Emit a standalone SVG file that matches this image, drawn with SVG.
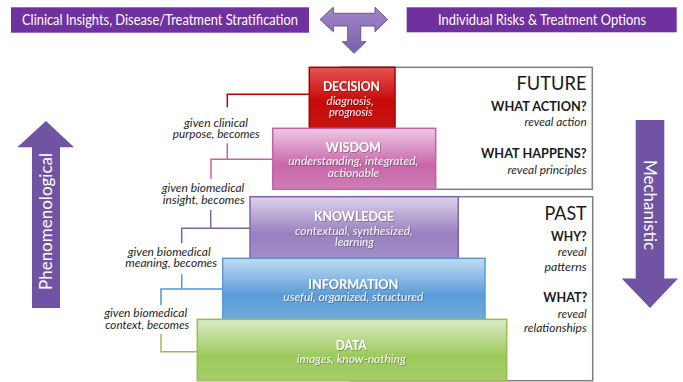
<svg xmlns="http://www.w3.org/2000/svg" width="683" height="382" viewBox="0 0 683 382">
<defs>
<style>
text{font-family:Lato,"Liberation Sans",sans-serif}
.ban{font-size:14.5px;fill:#fff;text-anchor:middle}
.ttl{font-size:13px;font-weight:bold;fill:#fff;text-anchor:middle}
.sub{font-size:11.5px;font-style:italic;fill:#f4f4f4;text-anchor:middle}
.lbl{font-size:11px;font-style:italic;fill:#262626;text-anchor:middle}
.big{font-size:20px;fill:#1a1a1a;text-anchor:end}
.q{font-size:13px;font-weight:bold;fill:#1a1a1a;text-anchor:end}
.rv{font-size:11px;font-style:italic;fill:#262626;text-anchor:end}
.vert{font-size:17px;fill:#fff;text-anchor:middle}
.frame{fill:none;stroke:#7f7f7f;stroke-width:1.5}
.con{fill:none;stroke-width:1.5}
.sh{filter:url(#sh)}
</style>
<filter id="sh" x="-10%" y="-30%" width="120%" height="160%">
<feDropShadow dx="0.8" dy="0.8" stdDeviation="0.5" flood-color="#000" flood-opacity="0.35"/>
</filter>
<linearGradient id="gRed" x1="0" y1="0" x2="0" y2="1">
<stop offset="0" stop-color="#e65454"/><stop offset="0.55" stop-color="#c80a0a"/><stop offset="1" stop-color="#c41414"/>
</linearGradient>
<linearGradient id="gPink" x1="0" y1="0" x2="0" y2="1">
<stop offset="0" stop-color="#efc9e4"/><stop offset="0.6" stop-color="#c867aa"/><stop offset="1" stop-color="#cf7db6"/>
</linearGradient>
<linearGradient id="gPur" x1="0" y1="0" x2="0" y2="1">
<stop offset="0" stop-color="#ddd2ea"/><stop offset="0.6" stop-color="#9880c0"/><stop offset="1" stop-color="#a48fc8"/>
</linearGradient>
<linearGradient id="gBlue" x1="0" y1="0" x2="0" y2="1">
<stop offset="0" stop-color="#c2dcf2"/><stop offset="0.6" stop-color="#5b9cd8"/><stop offset="1" stop-color="#70a9dc"/>
</linearGradient>
<linearGradient id="gGreen" x1="0" y1="0" x2="0" y2="1">
<stop offset="0" stop-color="#dbebc4"/><stop offset="0.6" stop-color="#9cc95c"/><stop offset="1" stop-color="#a6cd6a"/>
</linearGradient>
<linearGradient id="gT" x1="0" y1="0" x2="0" y2="1">
<stop offset="0" stop-color="#9f86c8"/><stop offset="1" stop-color="#7c61ab"/>
</linearGradient>
</defs>
<rect width="683" height="382" fill="#fff"/>

<g id="banner-left">
<rect x="11" y="7.3" width="298" height="25.4" fill="#7030a0"/>
<text class="ban" x="160" y="25" textLength="276" lengthAdjust="spacingAndGlyphs">Clinical Insights, Disease/Treatment Stratification</text>
</g>
<g id="banner-right">
<rect x="406.7" y="7.3" width="270" height="25" fill="#7030a0"/>
<text class="ban" x="542" y="25" textLength="208" lengthAdjust="spacingAndGlyphs">Individual Risks &amp; Treatment Options</text>
</g>
<g id="t-arrow">
<polygon points="320,19.5 333.3,7.3 333.3,13.3 375,13.3 375,7.3 387.5,19.5 375,31.7 375,26 360.7,26 360.7,41.7 366,41.7 354,53.3 342.3,41.7 347.7,41.7 347.7,26 333.3,26 333.3,31.7" fill="url(#gT)" stroke="#6d5592" stroke-width="1"/>
</g>

<g id="arrow-phenomenological">
<polygon points="46,121 74,147.3 60,147.3 60,308 32,308 32,147.3 17.3,147.3" fill="#7153a3"/>
<text class="vert" transform="translate(46,221.5) rotate(-90)" x="0" y="6" textLength="137" lengthAdjust="spacingAndGlyphs">Phenomenological</text>
</g>
<g id="arrow-mechanistic">
<polygon points="635.7,120 664.3,120 664.3,278.5 678,278.5 650,308 621.7,278.5 635.7,278.5" fill="#7153a3"/>
<text class="vert" transform="translate(650,205) rotate(90)" x="0" y="6" textLength="90" lengthAdjust="spacingAndGlyphs">Mechanistic</text>
</g>

<g id="future">
<rect class="frame" x="340" y="67.3" width="252.3" height="122"/>
<text class="big" x="586.5" y="90" textLength="70" lengthAdjust="spacingAndGlyphs">FUTURE</text>
<text class="q" x="586.7" y="111.3" textLength="95.7" lengthAdjust="spacingAndGlyphs">WHAT ACTION?</text>
<text class="rv" x="586.7" y="126" textLength="62.3" lengthAdjust="spacingAndGlyphs">reveal action</text>
<text class="q" x="586.7" y="158" textLength="105.7" lengthAdjust="spacingAndGlyphs">WHAT HAPPENS?</text>
<text class="rv" x="586.7" y="173.7" textLength="79.3" lengthAdjust="spacingAndGlyphs">reveal principles</text>
</g>
<g id="past">
<rect class="frame" x="350" y="196.7" width="242.7" height="184"/>
<text class="big" x="586.7" y="220" textLength="42.3" lengthAdjust="spacingAndGlyphs">PAST</text>
<text class="q" x="586.7" y="241.3" textLength="35.7" lengthAdjust="spacingAndGlyphs">WHY?</text>
<text class="rv" x="586.7" y="256" textLength="29" lengthAdjust="spacingAndGlyphs">reveal</text>
<text class="rv" x="586.7" y="271" textLength="42.3" lengthAdjust="spacingAndGlyphs">patterns</text>
<text class="q" x="587.3" y="302" textLength="44" lengthAdjust="spacingAndGlyphs">WHAT?</text>
<text class="rv" x="586.7" y="318" textLength="29" lengthAdjust="spacingAndGlyphs">reveal</text>
<text class="rv" x="586.7" y="332" textLength="62.7" lengthAdjust="spacingAndGlyphs">relationships</text>
</g>

<g id="connectors">
<path class="con" stroke="#c00000" d="M309.3,94.3 H227.3 V107.3"/>
<path class="con" stroke="#c462a8" d="M227.3,143.3 V159.3 M272.7,159.3 H211 V179"/>
<path class="con" stroke="#8064a2" d="M210.7,210 V228.3 M250,228.3 H181.7 V243.3"/>
<path class="con" stroke="#4f97d3" d="M181.7,274.3 V289 M222.7,289 H161 V305"/>
<path class="con" stroke="#9bbb59" d="M161,334 V351.7 H197.3"/>
<text class="lbl" x="216" y="126.5" textLength="64" lengthAdjust="spacingAndGlyphs">given clinical</text>
<text class="lbl" x="216.3" y="138" textLength="87" lengthAdjust="spacingAndGlyphs">purpose, becomes</text>
<text class="lbl" x="203" y="192" textLength="82.6" lengthAdjust="spacingAndGlyphs">given biomedical</text>
<text class="lbl" x="203.8" y="204" textLength="82" lengthAdjust="spacingAndGlyphs">insight, becomes</text>
<text class="lbl" x="169.2" y="255.5" textLength="83" lengthAdjust="spacingAndGlyphs">given biomedical</text>
<text class="lbl" x="171.2" y="267" textLength="92" lengthAdjust="spacingAndGlyphs">meaning, becomes</text>
<text class="lbl" x="145.7" y="317" textLength="83" lengthAdjust="spacingAndGlyphs">given biomedical</text>
<text class="lbl" x="147.2" y="329" textLength="84" lengthAdjust="spacingAndGlyphs">context, becomes</text>
</g>

<g id="decision">
<rect x="309.3" y="67.3" width="85.7" height="61" fill="url(#gRed)" stroke="#a50000" stroke-width="1.5"/>
<g class="sh">
<text class="ttl" x="351.4" y="90.5" textLength="57" lengthAdjust="spacingAndGlyphs">DECISION</text>
<text class="sub" x="350" y="104.5" textLength="47" lengthAdjust="spacingAndGlyphs">diagnosis,</text>
<text class="sub" x="350.8" y="116" textLength="43.7" lengthAdjust="spacingAndGlyphs">prognosis</text>
</g>
</g>
<g id="wisdom">
<rect x="272.7" y="128.3" width="163" height="61" fill="url(#gPink)" stroke="#c462a8" stroke-width="1.5"/>
<g class="sh">
<text class="ttl" x="353.3" y="152" textLength="55" lengthAdjust="spacingAndGlyphs">WISDOM</text>
<text class="sub" x="353.3" y="164.5" textLength="130" lengthAdjust="spacingAndGlyphs">understanding, integrated,</text>
<text class="sub" x="353.5" y="177" textLength="51.7" lengthAdjust="spacingAndGlyphs">actionable</text>
</g>
</g>
<g id="knowledge">
<rect x="250" y="196.7" width="208.3" height="61.6" fill="url(#gPur)" stroke="#8064a2" stroke-width="1.5"/>
<g class="sh">
<text class="ttl" x="354" y="220.5" textLength="80" lengthAdjust="spacingAndGlyphs">KNOWLEDGE</text>
<text class="sub" x="353.8" y="234.5" textLength="117.7" lengthAdjust="spacingAndGlyphs">contextual, synthesized,</text>
<text class="sub" x="354.5" y="246" textLength="39" lengthAdjust="spacingAndGlyphs">learning</text>
</g>
</g>
<g id="information">
<rect x="222.7" y="258.3" width="262.3" height="61" fill="url(#gBlue)" stroke="#5b9bd5" stroke-width="1.5"/>
<g class="sh">
<text class="ttl" x="353.3" y="288.5" textLength="90" lengthAdjust="spacingAndGlyphs">INFORMATION</text>
<text class="sub" x="353.3" y="301" textLength="140" lengthAdjust="spacingAndGlyphs">useful, organized, structured</text>
</g>
</g>
<g id="data">
<rect x="197.3" y="319.3" width="309.4" height="61.4" fill="url(#gGreen)" stroke="#9bbb59" stroke-width="1.5"/>
<g class="sh">
<text class="ttl" x="351.2" y="349.5" textLength="31" lengthAdjust="spacingAndGlyphs">DATA</text>
<text class="sub" x="351.2" y="363" textLength="109" lengthAdjust="spacingAndGlyphs">images, know-nothing</text>
</g>
</g>
</svg>
